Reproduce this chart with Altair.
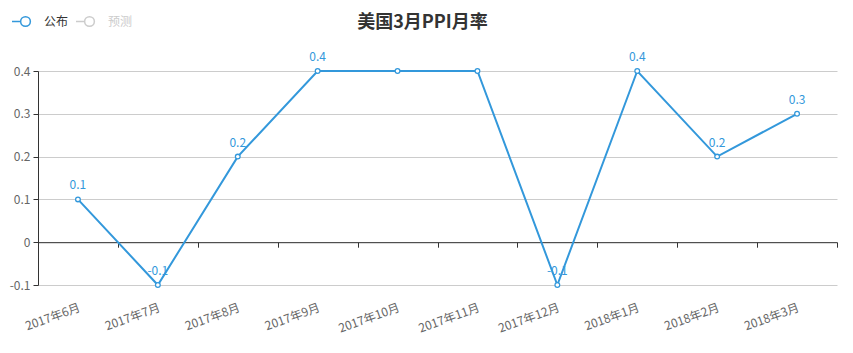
import altair as alt
import pandas as pd

# ---- data ----
months = ["2017年6月", "2017年7月", "2017年8月", "2017年9月", "2017年10月",
          "2017年11月", "2017年12月", "2018年1月", "2018年2月", "2018年3月"]
values = [0.1, -0.1, 0.2, 0.4, 0.4, 0.4, -0.1, 0.4, 0.2, 0.3]
point_labels = ["0.1", "-0.1", "0.2", "0.4", "", "", "-0.1", "0.4", "0.2", "0.3"]
series_names = ["公布", "预测"]
series_colors = ["#3398DB", "#cccccc"]
y_ticks = [-0.1, 0, 0.1, 0.2, 0.3, 0.4]
y_domain = [-0.1, 0.4]
title_text = "美国3月PPI月率"

df = pd.DataFrame({"month": months, "value": values, "label": point_labels,
                   "series": series_names[0]})

FONT = "Noto Sans CJK SC"
W, H = 799, 214
BLUE = series_colors[0]

xscale = alt.Scale(domain=months, paddingInner=0, paddingOuter=0)
yscale = alt.Scale(domain=y_domain, nice=False, zero=False)

legend_symbol = "M-1,0L-0.36,0M0.36,0A0.36,0.36,0,1,1,-0.36,0A0.36,0.36,0,1,1,0.36,0"


def legend(x, label_color):
    return alt.Legend(orient="none", legendX=x, legendY=-64, padding=0,
                      direction="horizontal", title=None,
                      symbolType=legend_symbol, symbolSize=729,
                      symbolStrokeWidth=1.5, symbolFillColor="white",
                      labelFontSize=12, labelFont=FONT, labelColor=label_color,
                      labelOffset=4)


line = alt.Chart(df).mark_line(strokeWidth=2).encode(
    x=alt.X("month:N", scale=xscale,
            axis=alt.Axis(orient="bottom", title=None, domain=False, ticks=False,
                          grid=False, labelAngle=-20, labelAlign="right",
                          labelBaseline="top", labelPadding=17, labelColor="#666",
                          labelFontSize=12, labelFont=FONT, labelOverlap=False)),
    y=alt.Y("value:Q", scale=yscale,
            axis=alt.Axis(values=y_ticks, title=None, domainColor="#333",
                          tickColor="#333", tickSize=5, labelColor="#666",
                          labelFontSize=12, labelFont=FONT, labelPadding=3,
                          gridColor="#cccccc",
                          labelExpr="toString(round(datum.value*10)/10)")),
    color=alt.Color("series:N",
                    scale=alt.Scale(domain=series_names[:1], range=series_colors[:1]),
                    legend=legend(-27, "#333333")),
)

# hidden forecast series: only its legend entry is visible
forecast = alt.Chart(df).transform_calculate(
    series2="'%s'" % series_names[1]
).transform_filter("false").mark_line().encode(
    x=alt.X("month:N", scale=xscale, axis=None),
    y=alt.Y("value:Q", scale=yscale),
    stroke=alt.Stroke("series2:N",
                      scale=alt.Scale(domain=series_names[1:], range=series_colors[1:]),
                      legend=legend(37, "#cccccc")),
)

points = alt.Chart(df).mark_point(shape="circle", filled=True, fill="white",
                                  stroke=BLUE, strokeWidth=1.3, size=22,
                                  opacity=1).encode(
    x=alt.X("month:N", scale=xscale, axis=None),
    y=alt.Y("value:Q", scale=yscale),
)

texts = alt.Chart(df).mark_text(baseline="bottom", dy=-7, fontSize=12, font=FONT,
                                color=BLUE).encode(
    x=alt.X("month:N", scale=xscale,
            axis=alt.Axis(orient="bottom", title=None, labels=False, grid=False,
                          domain=True, domainColor="#333", ticks=True,
                          tickColor="#333", tickSize=5, tickBand="extent",
                          offset=-42.8)),
    y=alt.Y("value:Q", scale=yscale),
    text="label:N",
)

chart = alt.layer(line, forecast, points, texts).resolve_axis(
    x="independent").resolve_legend(color="independent", stroke="independent").properties(
    width=W, height=H,
    autosize=alt.AutoSizeParams(type="none"),
    padding={"left": 38, "top": 71, "right": 16, "bottom": 68},
    title=alt.TitleParams(title_text, anchor="middle", fontSize=18,
                          fontWeight="bold", color="#333", font=FONT, dx=-15,
                          offset=10, dy=35),
).configure_view(stroke=None)

chart.save("out.html", embed_options={"renderer": "svg", "actions": False})
